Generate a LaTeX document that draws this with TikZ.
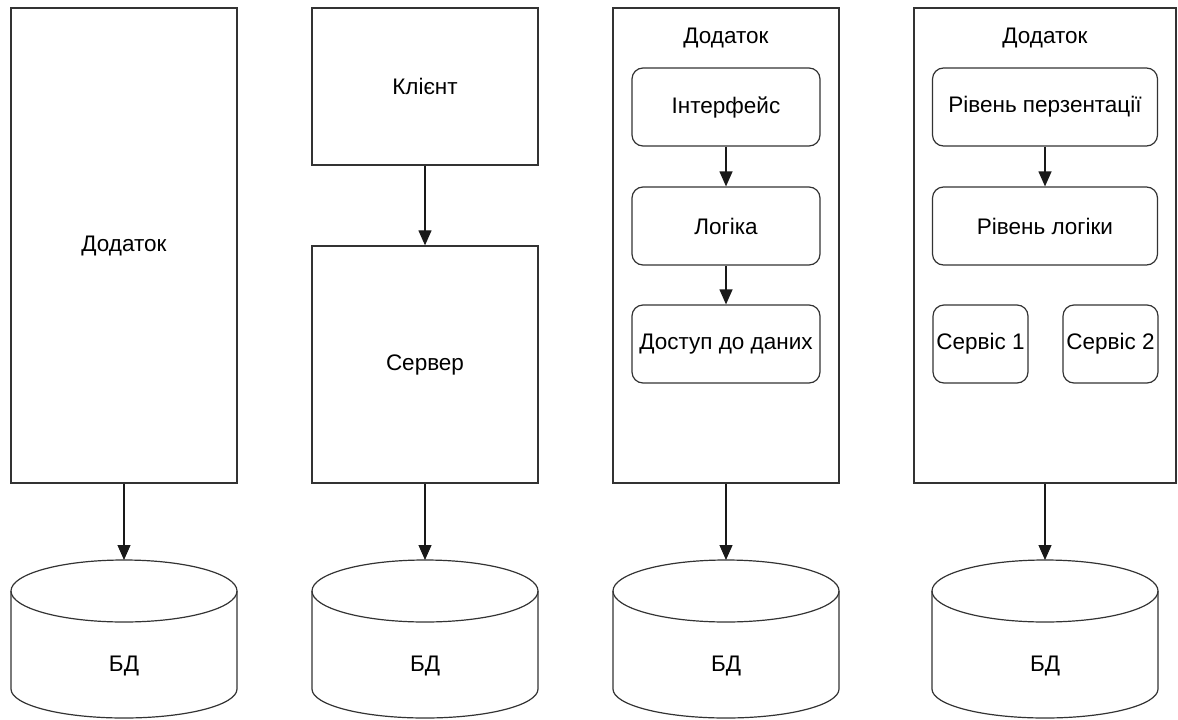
\documentclass[tikz,border=0pt]{standalone}
\usepackage{fontspec}
\setmainfont{Liberation Sans}
\usetikzlibrary{arrows.meta}

\tikzset{
  box/.style={draw=black!80, line width=1.3pt, inner sep=0pt},
  layer/.style={draw=black!80, line width=1.2pt, rounded corners=11pt, inner sep=0pt},
  db/.style={draw=black!80, line width=1.2pt},
  link/.style={-{Triangle[length=15pt,width=13pt]}, line width=1.2pt, black!90},
}

\begin{document}
\begin{tikzpicture}[x=1pt,y=-1pt,every node/.style={font=\fontsize{22.5}{26}\selectfont}]
\useasboundingbox (0,0) rectangle (1178,720);
% the four applications
\node[box, minimum width=226, minimum height=475] (app1) at (124,245.5) {Додаток};
\node[box, minimum width=226, minimum height=157] (client) at (425,86.5) {Клієнт};
\node[box, minimum width=226, minimum height=237] (server) at (425,364.5) {Сервер};
\node[box, minimum width=226, minimum height=475] (app3) at (726,245.5) {};
\node[box, minimum width=262, minimum height=475] (app4) at (1045,245.5) {};
\node (title3) at (726,38) {Додаток};
\node (title4) at (1045,38) {Додаток};
% layers inside
\node[layer, minimum width=188, minimum height=78] (ui) at (726,107) {Інтерфейс};
\node[layer, minimum width=188, minimum height=78] (logic) at (726,226) {Логіка};
\node[layer, minimum width=188, minimum height=78] (data) at (726,344) {Доступ до даних};
\node[layer, minimum width=225, minimum height=78] (pres) at (1045,107) {Рівень перзентації};
\node[layer, minimum width=225, minimum height=78] (logic4) at (1045,226) {Рівень логіки};
\node[layer, minimum width=95, minimum height=78] (srv1) at (980.5,344) {Сервіс 1};
\node[layer, minimum width=95, minimum height=78] (srv2) at (1110.5,344) {Сервіс 2};
% the databases
\foreach \x/\n in {124/1,425/2,726/3,1045/4} {
  \draw[db] (\x-113,591) -- (\x-113,689) arc[start angle=180,end angle=0,x radius=113,y radius=29] -- (\x+113,591);
  \draw[db] (\x,591) ellipse[x radius=113,y radius=31];
  \coordinate (top\n) at (\x,560);
  \node (db\n) at (\x,666) {БД};
}
% arrows
\draw[link] (client) -- (server);
\draw[link] (ui) -- (logic);
\draw[link] (logic) -- (data);
\draw[link] (pres) -- (logic4);
\draw[link] (app1) -- (top1);
\draw[link] (server) -- (top2);
\draw[link] (app3) -- (top3);
\draw[link] (app4) -- (top4);
\end{tikzpicture}
\end{document}
